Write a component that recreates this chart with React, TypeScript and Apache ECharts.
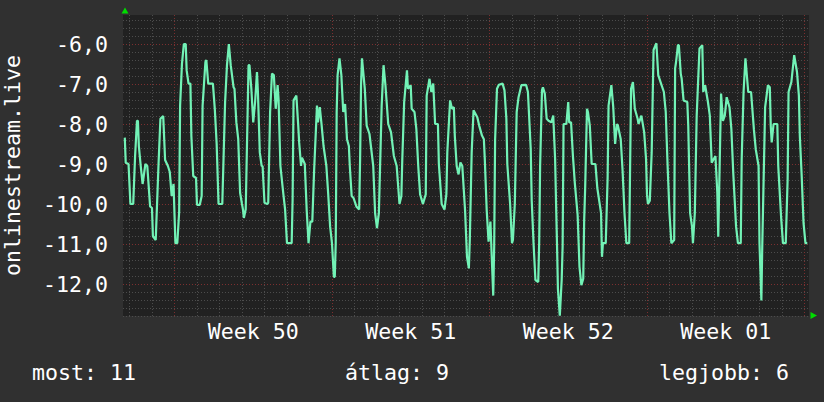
import { useEffect, useRef } from 'react';
import * as echarts from 'echarts';

// [hours since Monday 00:00 of Week 50, rank (negated)]
const week49Tail: [number, number][] = [
  [-53, -8.34], [-52, -8.97], [-49, -9.0], [-47, -10.0], [-44, -10.0], [-42, -8.8], [-40, -7.92], [-39, -7.92],
  [-38, -8.55], [-36, -9.05], [-34, -9.5], [-31, -9.0], [-29, -9.05], [-26, -10.06], [-24, -10.1], [-23, -10.8],
  [-20, -10.9], [-17, -9.0], [-15, -7.87], [-12, -7.8], [-10, -8.9], [-7, -9.05], [-5, -9.2], [-3, -9.8], [-1, -9.5],
];
const week50: [number, number][] = [
  [1, -10.98], [3, -10.98], [5, -10.2], [6, -7.54], [8, -6.49], [10, -6.0], [12, -6.0], [13, -6.66], [15, -6.99],
  [17, -6.99], [18, -8.29], [20, -9.3], [23, -9.35], [24, -10.02], [27, -10.02], [29, -9.8], [30, -7.54], [33, -6.45],
  [34, -6.4], [36, -6.99], [41, -6.99], [43, -7.62], [45, -8.5], [47, -10.0], [51, -10.0], [54, -7.45], [56, -6.53],
  [58, -6.0], [60, -6.53], [63, -7.08], [64, -7.12], [66, -7.96], [68, -8.38], [70, -9.72], [72, -10.0], [73, -10.13],
  [74, -10.35], [76, -10.13], [79, -6.53], [80, -6.53], [82, -7.12], [84, -7.96], [86, -7.45], [88, -6.7], [89, -7.2],
  [91, -8.71], [93, -9.05], [94, -9.05], [96, -9.97], [99, -10.0], [100, -9.97], [102, -7.7], [104, -6.74], [106, -6.78],
  [108, -7.62], [110, -7.03], [111, -7.37], [113, -9.05], [116, -9.72], [118, -10.14], [120, -10.98], [125, -10.98],
  [126, -9.9], [127, -7.41], [130, -7.29], [132, -8.04], [133, -8.46], [135, -9.05], [136, -8.84], [139, -9.0],
  [141, -10.14], [143, -10.98], [145, -10.44], [147, -10.44], [149, -9.13], [152, -7.54], [153, -7.96], [155, -7.58],
  [157, -8.04], [159, -8.55], [162, -9.05], [164, -9.76], [166, -10.56], [168, -10.98],
];
const week51: [number, number][] = [
  [170, -11.82], [171, -11.82], [172, -10.98], [173, -7.7], [174, -6.78], [176, -6.36], [178, -6.78], [180, -7.7],
  [182, -7.5], [184, -8.38], [186, -8.55], [187, -9.05], [189, -9.8], [191, -9.85], [194, -10.06], [197, -10.14],
  [198, -8.88], [199, -7.03], [200, -6.36], [203, -7.12], [205, -8.04], [208, -8.25], [212, -9.05], [214, -10.23],
  [216, -10.6], [218, -10.23], [221, -7.54], [223, -6.53], [225, -7.03], [228, -8.0], [231, -8.21], [234, -8.8],
  [237, -9.05], [240, -10.0], [242, -9.8], [243, -8.88], [245, -7.45], [248, -6.66], [249, -7.12], [252, -7.03],
  [253, -7.62], [256, -7.7], [258, -8.13], [260, -9.05], [262, -9.76], [265, -10.0], [268, -9.76], [269, -7.29],
  [272, -6.87], [274, -7.2], [276, -6.99], [278, -8.0], [281, -8.0], [282, -9.0], [285, -10.0], [288, -10.14],
  [290, -9.76], [291, -8.71], [294, -7.41], [296, -7.62], [298, -7.58], [299, -8.29], [301, -9.05], [303, -9.26],
  [305, -8.96], [307, -9.05], [310, -10.18], [312, -11.32], [314, -11.61], [315, -10.9], [317, -8.71], [319, -7.66],
  [323, -7.83], [325, -8.04], [328, -8.29], [330, -8.38], [331, -8.88], [333, -10.14], [335, -10.94],
];
const week52: [number, number][] = [
  [337, -10.44], [338, -11.07], [340, -12.29], [341, -11.07], [342, -8.38], [344, -7.12], [346, -7.02], [350, -6.99],
  [352, -7.16], [354, -7.87], [355, -9.0], [358, -10.0], [360, -10.98], [361, -10.9], [363, -10.0], [365, -7.7],
  [367, -7.33], [370, -7.03], [375, -7.02], [377, -7.2], [380, -8.63], [381, -9.89], [383, -10.98], [385, -11.9],
  [388, -11.95], [389, -10.98], [390, -9.05], [392, -7.16], [393, -7.08], [395, -7.24], [397, -7.87], [399, -7.92],
  [402, -7.96], [404, -7.79], [406, -8.88], [407, -9.97], [408, -10.98], [409, -12.12], [411, -12.79], [413, -11.9],
  [414, -11.07], [415, -8.0], [418, -8.0], [420, -7.45], [421, -7.96], [423, -7.96], [425, -8.8], [427, -9.47],
  [430, -10.27], [432, -11.57], [434, -12.03], [436, -11.87], [437, -10.4], [438, -9.64], [440, -7.62], [441, -7.7],
  [443, -8.04], [445, -9.0], [449, -9.0], [451, -9.6], [455, -10.23], [456, -11.32], [457, -10.98], [460, -10.98],
  [462, -9.34], [463, -7.54], [466, -7.03], [468, -7.58], [470, -8.5], [472, -8.0], [473, -8.04], [476, -8.38],
  [478, -9.18], [480, -10.23], [482, -10.98], [485, -10.98], [487, -7.12], [489, -6.95], [491, -7.62], [494, -7.87],
  [495, -8.0], [498, -7.79], [501, -8.21], [503, -8.88], [504, -9.76],
];
const week01: [number, number][] = [
  [505, -10.0], [507, -9.92], [509, -8.71], [511, -6.15], [514, -5.98], [516, -6.78], [519, -6.99], [522, -7.2],
  [524, -7.7], [526, -9.05], [528, -10.23], [530, -10.98], [533, -10.9], [534, -6.61], [535, -6.45], [537, -6.03],
  [538, -6.03], [540, -6.74], [541, -6.87], [543, -7.41], [547, -7.45], [548, -8.04], [550, -10.23], [552, -10.56],
  [553, -10.98], [555, -10.23], [557, -7.79], [560, -6.11], [563, -6.03], [564, -7.2], [566, -7.03], [569, -7.45],
  [571, -7.79], [573, -8.97], [577, -8.8], [579, -9.72], [580, -10.82], [583, -7.24], [585, -7.92], [587, -7.79],
  [589, -7.33], [592, -7.58], [594, -8.13], [596, -9.22], [599, -10.56], [601, -10.98], [604, -10.98], [605, -8.88],
  [607, -7.2], [609, -6.36], [612, -7.2], [615, -7.2], [618, -8.13], [620, -8.63], [623, -9.05], [624, -10.98],
  [626, -12.41], [627, -10.98], [629, -8.71], [630, -7.58], [633, -7.03], [635, -7.08], [636, -8.04], [637, -8.46],
  [639, -8.0], [643, -8.0], [644, -9.05], [647, -10.31], [649, -10.98], [652, -10.98], [654, -9.38], [655, -7.2],
  [658, -6.95], [661, -6.28], [664, -6.7], [666, -7.29], [667, -8.29], [669, -9.3], [671, -10.48], [673, -10.98],
  [675, -10.98],
];

const weekNames = ['Week 50', 'Week 51', 'Week 52', 'Week 01'];
const weekLabelHours = [84, 252, 420, 588];
const weekStartHours = [0, 168, 336, 504, 672];
const dayHours = [-48, -24, 24, 48, 72, 96, 120, 144, 192, 216, 240, 264, 288, 312, 360, 384, 408, 432, 456, 480, 528, 552, 576, 600, 624, 648];
const footerTexts = ['most: 11', 'átlag: 9', 'legjobb: 6'];
const axisTitle = 'onlinestream.live';

const X_MIN = -54.9;
const X_MAX = 676.8;
const Y_MIN = -12.8;
const Y_MAX = -5.275;

const MINOR = '#4c4c4c';
const MAJOR = '#7c2f2f';
const FONT = 'DejaVu Sans Mono';
const FS = 21.6;

export default function App() {
  const ref = useRef<HTMLDivElement>(null);
  useEffect(() => {
    if (!ref.current) return;
    const chart = echarts.init(ref.current, undefined, { renderer: 'svg' });
    const series = [...week49Tail, ...week50, ...week51, ...week52, ...week01];
    const vLines = [
      ...dayHours.map((h) => ({ xAxis: h, lineStyle: { color: MINOR, type: [1, 2], width: 1 } })),
      ...weekStartHours.map((h) => ({ xAxis: h, lineStyle: { color: MAJOR, type: [1, 2], width: 1 } })),
    ];
    chart.setOption({
      animation: false,
      backgroundColor: '#303030',
      grid: {
        left: 123, right: 15, top: 15, bottom: 86,
        containLabel: false, outerBoundsMode: 'none',
        show: true, backgroundColor: '#212121', borderWidth: 0,
      },
      xAxis: {
        type: 'value', min: X_MIN, max: X_MAX,
        axisLine: { show: false }, axisTick: { show: false }, splitLine: { show: false },
        axisLabel: {
          customValues: weekLabelHours,
          formatter: (v: number) => weekNames[weekLabelHours.indexOf(v)] ?? '',
          color: '#ffffff', fontFamily: FONT, fontSize: FS, margin: 4,
        },
      },
      yAxis: {
        type: 'value', min: Y_MIN, max: Y_MAX, interval: 0.2,
        name: axisTitle, nameLocation: 'middle', nameGap: 102, nameRotate: 90,
        nameTextStyle: { color: '#ffffff', fontFamily: FONT, fontSize: FS, lineHeight: 18 },
        axisLine: { show: false }, axisTick: { show: false },
        axisLabel: {
          color: '#ffffff', fontFamily: FONT, fontSize: FS, margin: 15,
          formatter: (v: number) =>
            Math.abs(v - Math.round(v)) < 1e-6 ? Math.round(v).toFixed(1).replace('.', ',') : '',
        },
        splitLine: {
          show: true, showMaxLine: false,
          lineStyle: { color: [MINOR, MINOR, MINOR, MINOR, MAJOR], type: [1, 2], width: 1 },
        },
      },
      series: [
        {
          type: 'line', data: series, showSymbol: false, z: 3,
          lineStyle: { color: '#72f2b6', width: 2.2 },
          itemStyle: { color: '#72f2b6' },
          markLine: { silent: true, symbol: 'none', z: 1, label: { show: false }, data: vLines, animation: false },
        },
      ],
      graphic: [
        { type: 'polygon', shape: { points: [[121.5, 13.5], [128.5, 13.5], [125, 7.5]] }, style: { fill: '#00dd00' } },
        { type: 'polygon', shape: { points: [[810.5, 312], [810.5, 319], [817, 315.5]] }, style: { fill: '#00dd00' } },
        ...footerTexts.map((t, i) => ({
          type: 'text', x: [32, 345, 659][i], y: 372,
          style: { text: t, fill: '#ffffff', fontFamily: FONT, fontSize: FS, verticalAlign: 'middle', align: 'left' },
        })),
      ],
    });
    return () => chart.dispose();
  }, []);
  return <div ref={ref} style={{ position: 'absolute', left: 0, top: 0, width: 824, height: 402 }} />;
}
